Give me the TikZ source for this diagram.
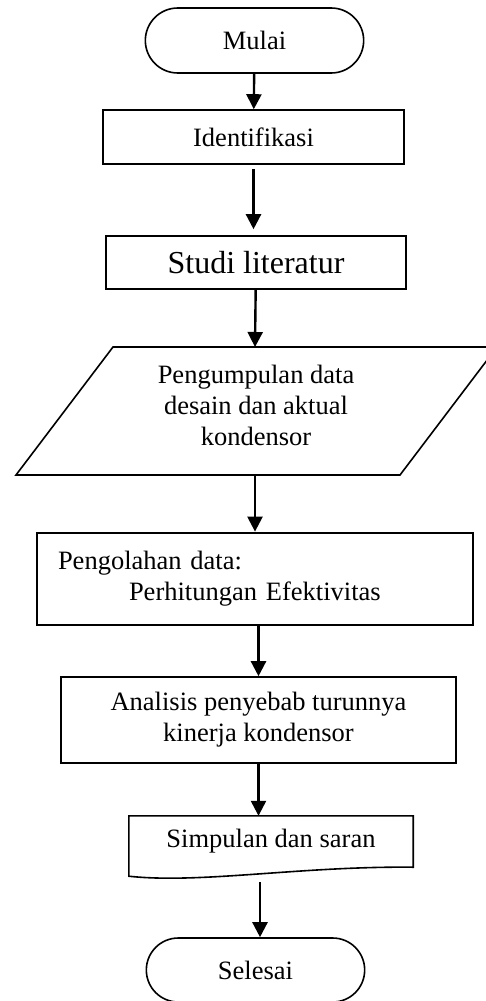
\documentclass[tikz,border=0pt]{standalone}
\usepackage{fontspec}
\setmainfont{Liberation Serif}
\usetikzlibrary{shapes.misc,arrows.meta}

\begin{document}
\begin{tikzpicture}[x=1pt,y=-1pt,
	term/.style={rounded rectangle, draw=black, line width=1.6pt, minimum width=225pt, minimum height=65pt},
	box/.style={rectangle, draw=black, line width=1.6pt, inner sep=0pt},
	arr/.style={-{Triangle[width=15pt,length=15pt]}, line width=2.4pt},
	font=\fontsize{26.5}{31}\selectfont]
	\useasboundingbox (0,0) rectangle (486,1001);
	\node[term] (mulai) at (254.5,40.5){Mulai};
	\node[box, minimum width=301pt, minimum height=54pt] (ident) at (253.5,137){Identifikasi};
	\node[box, minimum width=300pt, minimum height=53pt, font=\fontsize{32}{36}\selectfont] (studi) at (256,262.5){Studi literatur};
	% data masukan
	\node[align=center] (data) at (256,405){Pengumpulan data\\desain dan aktual\\kondensor};
	\coordinate (datatop) at (255,347);
	\coordinate (databot) at (255,475);
	\draw[line width=1.6pt] (16,475) -- (113,347) -- (497,347) -- (400,475) -- cycle;
	\node[box, line width=2.8pt, minimum width=436pt, minimum height=92pt, text width=394pt, align=left] (olah) at (255,579){Pengolahan data:\\\hspace*{71pt}Perhitungan Efektivitas};
	\node[box, minimum width=395pt, minimum height=86pt, align=center] (anal) at (258.5,720){Analisis penyebab turunnya\\kinerja kondensor};
	% dokumen
	\node[minimum width=284pt, minimum height=51pt, inner sep=0pt] (simp) at (271,841.5){Simpulan dan saran};
	\draw[line width=1.6pt] (simp.south west) -- (simp.north west) -- (simp.north east) -- (simp.south east)
		.. controls (300,866) and (200,884) .. ([yshift=-9pt]simp.south west) -- cycle;
	\coordinate (simpout) at (260,882);
	\node[term, minimum height=64pt] (sel) at (255.5,970){Selesai};

	\draw[arr] (mulai) -- (ident);
	\draw[arr, shorten <=4pt, shorten >=6pt] (ident.south) -- (ident.south |- studi.north);
	\draw[arr] (studi) -- (datatop);
	\draw[arr] (databot) -- (olah);
	\draw[arr] (olah.south -| anal.north) -- (anal.north);
	\draw[arr] (anal.south) -- (anal.south |- simp.north);
	\draw[arr] (simpout) -- (simpout |- sel.north);
\end{tikzpicture}
\end{document}
